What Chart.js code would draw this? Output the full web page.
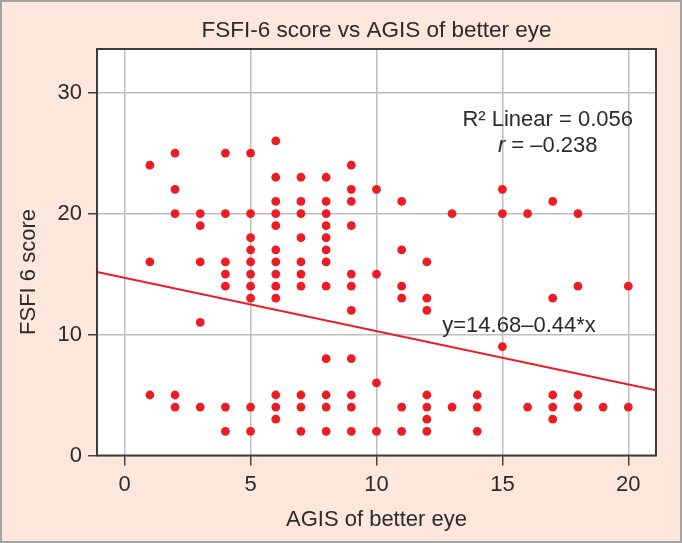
<!DOCTYPE html>
<html>
<head>
<meta charset="utf-8">
<script src="https://cdn.jsdelivr.net/npm/chart.js@4.4.1/dist/chart.umd.min.js"></script>
<style>
html, body { margin: 0; padding: 0; background: #fde6dc; }
#wrap { width: 682px; height: 543px; }
</style>
</head>
<body>
<div id="wrap"><canvas id="fsfiChart" width="682" height="543"></canvas></div>
<script>
// AGIS of better eye (x) and FSFI-6 score (y), one pair per patient, read column by column
var agis = [
  1, 1, 1,
  2, 2, 2, 2, 2,
  3, 3, 3, 3, 3,
  4, 4, 4, 4, 4, 4, 4,
  5, 5, 5, 5, 5, 5, 5, 5, 5, 5,
  6, 6, 6, 6, 6, 6, 6, 6, 6, 6, 6, 6, 6,
  7, 7, 7, 7, 7, 7, 7, 7, 7, 7,
  8, 8, 8, 8, 8, 8, 8, 8, 8, 8, 8, 8,
  9, 9, 9, 9, 9, 9, 9, 9, 9, 9, 9,
  10, 10, 10, 10,
  11, 11, 11, 11, 11, 11,
  12, 12, 12, 12, 12, 12, 12,
  13, 13,
  14, 14, 14,
  15, 15, 15,
  16, 16,
  17, 17, 17, 17, 17,
  18, 18, 18, 18,
  19,
  20, 20
];
var fsfi = [
  24, 16, 5,
  25, 22, 20, 5, 4,
  20, 19, 16, 11, 4,
  25, 20, 16, 15, 14, 4, 2,
  25, 20, 18, 17, 16, 15, 14, 13, 4, 2,
  26, 23, 21, 20, 19, 17, 16, 15, 14, 13, 5, 4, 3,
  23, 21, 20, 18, 16, 15, 14, 5, 4, 2,
  23, 21, 20, 19, 18, 17, 16, 14, 8, 5, 4, 2,
  24, 22, 21, 19, 15, 14, 12, 8, 5, 4, 2,
  22, 15, 6, 2,
  21, 17, 14, 13, 4, 2,
  16, 13, 12, 5, 4, 3, 2,
  20, 4,
  5, 4, 2,
  22, 20, 9,
  20, 4,
  21, 13, 5, 4, 3,
  20, 14, 5, 4,
  4,
  14, 4
];

// fitted line as printed on the chart
var fitIntercept = 14.68;
var fitSlope = -0.44;

var xRange = [-1.1, 21.1];
var yRange = [0, 33.6];
var xTicks = [0, 5, 10, 15, 20];
var yTicks = [0, 10, 20, 30];

var FONT = '"Liberation Sans", Arial, sans-serif';
var TEXT = '#2b2b2b';
var RED = '#ec1c24';

var points = agis.map(function(x, i) { return {x: x, y: fsfi[i]}; });
var fitLine = xRange.map(function(x) { return {x: x, y: fitIntercept + fitSlope * x}; });

var framePlugin = {
  id: 'frame',
  beforeDraw: function(chart) {
    var ctx = chart.ctx, a = chart.chartArea;
    ctx.save();
    ctx.fillStyle = '#fde6dc';
    ctx.fillRect(0, 0, chart.width, chart.height);
    ctx.strokeStyle = '#a3a3a3';
    ctx.lineWidth = 2;
    ctx.strokeRect(1, 1, chart.width - 2, chart.height - 2);
    ctx.fillStyle = '#ffffff';
    ctx.fillRect(a.left, a.top, a.right - a.left, a.bottom - a.top);
    ctx.restore();
  },
  afterDraw: function(chart) {
    var ctx = chart.ctx, a = chart.chartArea;
    var xs = chart.scales.x, ys = chart.scales.y;
    ctx.save();
    ctx.strokeStyle = '#3c3c3c';
    ctx.lineWidth = 2;
    ctx.strokeRect(a.left, a.top, a.right - a.left, a.bottom - a.top);

    ctx.fillStyle = TEXT;
    ctx.textBaseline = 'middle';

    // y axis title, centred on the whole figure height
    ctx.save();
    ctx.translate(28.5, 272);
    ctx.rotate(-Math.PI / 2);
    ctx.textAlign = 'center';
    ctx.font = '22px ' + FONT;
    ctx.fillText('FSFI 6 score', 0, 0);
    ctx.restore();

    // fit statistics
    var cx = xs.getPixelForValue(16.8);
    ctx.textAlign = 'center';
    ctx.font = '22px ' + FONT;
    ctx.fillText('R\u00b2 Linear = 0.056', cx, ys.getPixelForValue(27.7));

    ctx.textAlign = 'left';
    var rest = ' = \u20130.238';
    ctx.font = 'italic 22px ' + FONT;
    var wr = ctx.measureText('r').width;
    ctx.font = '22px ' + FONT;
    var wrest = ctx.measureText(rest).width;
    var sx = cx - (wr + wrest) / 2;
    var ry = ys.getPixelForValue(25.6);
    ctx.font = 'italic 22px ' + FONT;
    ctx.fillText('r', sx, ry);
    ctx.font = '22px ' + FONT;
    ctx.fillText(rest, sx + wr, ry);

    ctx.textAlign = 'center';
    ctx.fillText('y=14.68\u20130.44*x', xs.getPixelForValue(15.66), ys.getPixelForValue(10.72));
    ctx.restore();
  }
};

var ctx = document.getElementById('fsfiChart').getContext('2d');
new Chart(ctx, {
  type: 'scatter',
  data: {
    datasets: [
      {
        data: points,
        backgroundColor: RED,
        borderColor: RED,
        borderWidth: 0,
        pointRadius: 4.4,
        order: 1
      },
      {
        data: fitLine,
        showLine: true,
        borderColor: RED,
        borderWidth: 2,
        pointRadius: 0,
        order: 2
      }
    ]
  },
  options: {
    responsive: false,
    animation: false,
    layout: { padding: { left: 0, right: 26, top: 0, bottom: 0 } },
    plugins: {
      legend: { display: false },
      tooltip: { enabled: false },
      title: {
        display: true,
        text: 'FSFI-6 score vs AGIS of better eye',
        fullSize: false,
        color: TEXT,
        font: { family: FONT, size: 22.5, weight: 'normal' },
        padding: { top: 17.5, bottom: 4.5 }
      }
    },
    scales: {
      x: {
        type: 'linear',
        min: xRange[0],
        max: xRange[1],
        afterBuildTicks: function(s) { s.ticks = xTicks.map(function(v) { return {value: v}; }); },
        afterFit: function(s) { s.height = 87.5; },
        border: { display: false },
        grid: { color: '#bdbdbd', lineWidth: 1.5, tickLength: 10, tickColor: '#444', tickWidth: 1.5 },
        ticks: { color: TEXT, font: { family: FONT, size: 22 }, padding: 6, maxRotation: 0 },
        title: {
          display: true,
          text: 'AGIS of better eye',
          color: TEXT,
          font: { family: FONT, size: 22 },
          padding: { top: 0, bottom: 10 }
        }
      },
      y: {
        type: 'linear',
        min: yRange[0],
        max: yRange[1],
        afterBuildTicks: function(s) { s.ticks = yTicks.map(function(v) { return {value: v}; }); },
        afterFit: function(s) { s.width = 97; },
        border: { display: false },
        grid: { color: '#bdbdbd', lineWidth: 1.5, tickLength: 9, tickColor: '#444', tickWidth: 1.5 },
        ticks: { color: TEXT, font: { family: FONT, size: 22 }, padding: 6 }
      }
    }
  },
  plugins: [framePlugin]
});
</script>
</body>
</html>
